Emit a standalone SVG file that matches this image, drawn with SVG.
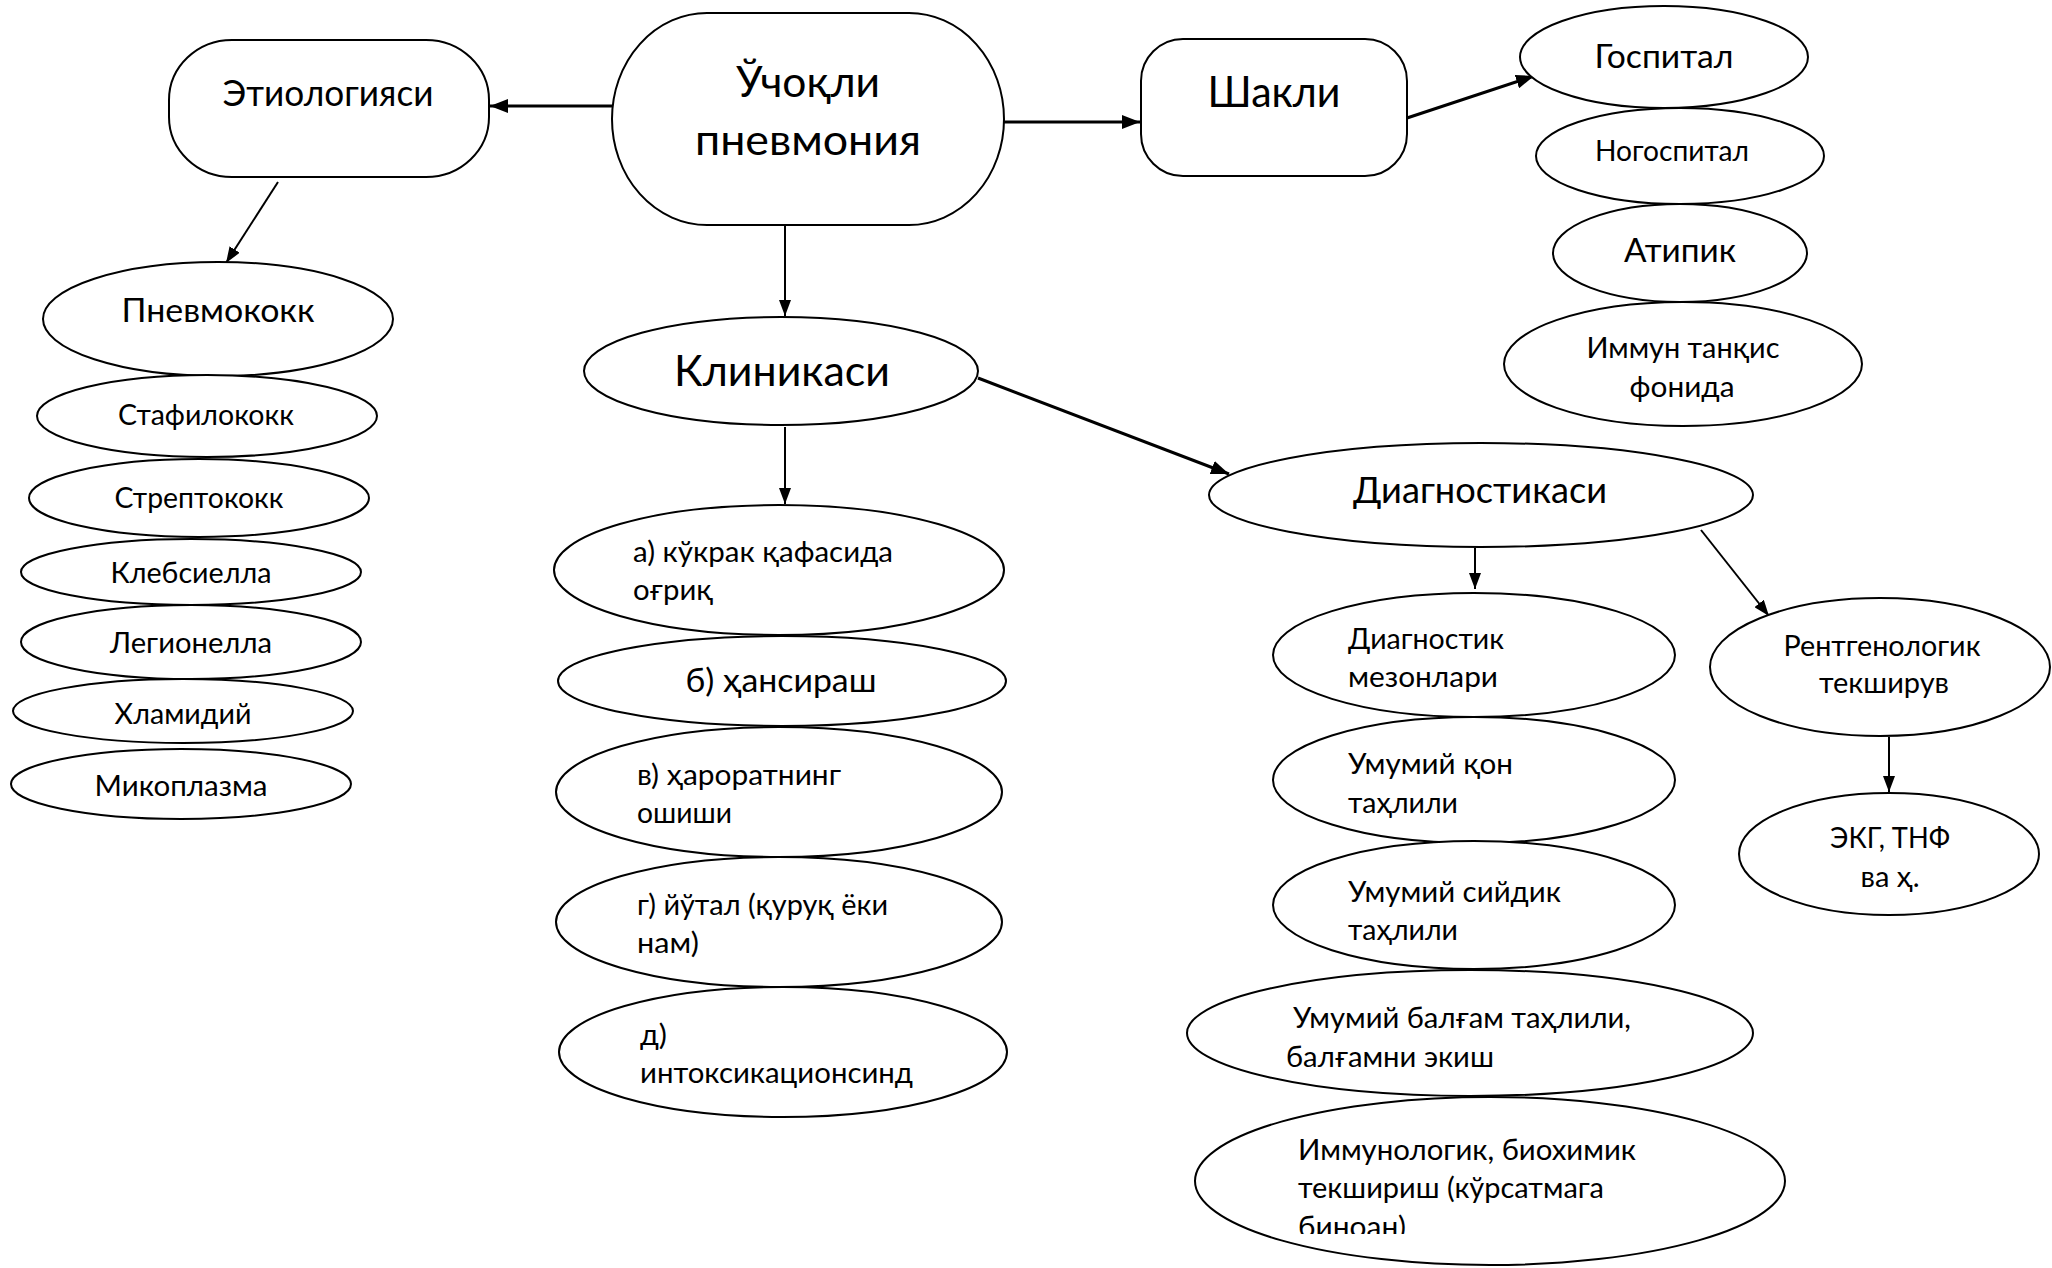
<svg xmlns="http://www.w3.org/2000/svg" width="2052" height="1268" viewBox="0 0 2052 1268">
<style>
  .shape { fill: #ffffff; stroke: #000000; stroke-width: 2; }
  .t { font-family: Lato, "Noto Sans", "Open Sans", sans-serif; fill: #000000; }
  .c { text-anchor: middle; }
  .xl { font-size: 43px; }
  .l { font-size: 37px; }
  .m { font-size: 32px; }
  .s { font-size: 29px; }
  .thick { stroke: #000; stroke-width: 3; fill: none; marker-end: url(#ah); }
  .thin { stroke: #000; stroke-width: 2; fill: none; marker-end: url(#ah2); }
</style>
<defs>
  <marker id="ah" markerUnits="userSpaceOnUse" markerWidth="18" markerHeight="14" viewBox="0 0 18 14" refX="18" refY="7" orient="auto">
    <path d="M0,0 L18,7 L0,14 Z" fill="#000"/>
  </marker>
  <marker id="ah2" markerUnits="userSpaceOnUse" markerWidth="16" markerHeight="12" viewBox="0 0 16 12" refX="16" refY="6" orient="auto">
    <path d="M0,0 L16,6 L0,12 Z" fill="#000"/>
  </marker>
  <clipPath id="clipImm">
    <rect x="1190" y="1090" width="600" height="144"/>
  </clipPath>
</defs>
<rect x="0" y="0" width="2052" height="1268" fill="#ffffff"/>

<g id="connectors">
  <line class="thick" x1="612" y1="106" x2="490" y2="106"/>
  <line class="thick" x1="1004" y1="122" x2="1140" y2="122"/>
  <line class="thick" x1="1407" y1="118" x2="1534" y2="76"/>
  <line class="thin" x1="278" y1="182" x2="226" y2="263"/>
  <line class="thin" x1="785" y1="225" x2="785" y2="316"/>
  <line class="thin" x1="785" y1="427" x2="785" y2="504"/>
  <line class="thick" x1="978" y1="378" x2="1229" y2="474"/>
  <line class="thin" x1="1475" y1="548" x2="1475" y2="589"/>
  <line class="thin" x1="1701" y1="530" x2="1769" y2="616"/>
  <line class="thin" x1="1889" y1="737" x2="1889" y2="792"/>
</g>

<g id="node-main">
  <rect class="shape" x="612" y="13" width="392" height="212" rx="95" ry="106"/>
  <text class="t c xl" x="808" y="97" textLength="144" lengthAdjust="spacingAndGlyphs">Ўчоқли</text>
  <text class="t c xl" x="808" y="155" textLength="226" lengthAdjust="spacingAndGlyphs">пневмония</text>
</g>

<g id="node-etiology">
  <rect class="shape" x="169" y="40" width="320" height="137" rx="63" ry="60"/>
  <text class="t c l" x="328" y="106" textLength="211" lengthAdjust="spacingAndGlyphs">Этиологияси</text>
</g>

<g id="node-shakli">
  <rect class="shape" x="1141" y="39" width="266" height="137" rx="42" ry="42"/>
  <text class="t c xl" x="1274" y="107" textLength="133" lengthAdjust="spacingAndGlyphs">Шакли</text>
</g>

<g id="node-klinikasi">
  <ellipse class="shape" cx="781" cy="371" rx="197" ry="54"/>
  <text class="t c xl" x="782" y="386" textLength="216" lengthAdjust="spacingAndGlyphs">Клиникаси</text>
</g>

<g id="node-diagnostikasi">
  <ellipse class="shape" cx="1481" cy="495" rx="272" ry="52"/>
  <text class="t c l" x="1480" y="503" textLength="254" lengthAdjust="spacingAndGlyphs">Диагностикаси</text>
</g>

<!-- Etiology list -->
<g id="node-pnevmokokk">
  <ellipse class="shape" cx="218" cy="319" rx="175" ry="57"/>
  <text class="t c m" x="218" y="322" textLength="193" lengthAdjust="spacingAndGlyphs">Пневмококк</text>
</g>
<g id="node-stafilokokk">
  <ellipse class="shape" cx="207" cy="416" rx="170" ry="41"/>
  <text class="t c s" x="206" y="425" textLength="176" lengthAdjust="spacingAndGlyphs">Стафилококк</text>
</g>
<g id="node-streptokokk">
  <ellipse class="shape" cx="199" cy="498" rx="170" ry="39"/>
  <text class="t c s" x="199" y="508" textLength="169" lengthAdjust="spacingAndGlyphs">Стрептококк</text>
</g>
<g id="node-klebsiella">
  <ellipse class="shape" cx="191" cy="572" rx="170" ry="33"/>
  <text class="t c s" x="191" y="583" textLength="161" lengthAdjust="spacingAndGlyphs">Клебсиелла</text>
</g>
<g id="node-legionella">
  <ellipse class="shape" cx="191" cy="642" rx="170" ry="37"/>
  <text class="t c s" x="191" y="653" textLength="162" lengthAdjust="spacingAndGlyphs">Легионелла</text>
</g>
<g id="node-hlamidiy">
  <ellipse class="shape" cx="183" cy="711" rx="170" ry="32"/>
  <text class="t c s" x="183" y="724" textLength="137" lengthAdjust="spacingAndGlyphs">Хламидий</text>
</g>
<g id="node-mikoplazma">
  <ellipse class="shape" cx="181" cy="784" rx="170" ry="35"/>
  <text class="t c s" x="181" y="796" textLength="173" lengthAdjust="spacingAndGlyphs">Микоплазма</text>
</g>

<!-- Forms -->
<g id="node-gospital">
  <ellipse class="shape" cx="1664" cy="57" rx="144" ry="51"/>
  <text class="t c m" x="1664" y="68" textLength="139" lengthAdjust="spacingAndGlyphs">Госпитал</text>
</g>
<g id="node-nogospital">
  <ellipse class="shape" cx="1680" cy="156" rx="144" ry="48"/>
  <text class="t c s" x="1672" y="161" textLength="154" lengthAdjust="spacingAndGlyphs">Ногоспитал</text>
</g>
<g id="node-atipik">
  <ellipse class="shape" cx="1680" cy="253" rx="127" ry="49"/>
  <text class="t c m" x="1680" y="262" textLength="112" lengthAdjust="spacingAndGlyphs">Атипик</text>
</g>
<g id="node-immun">
  <ellipse class="shape" cx="1683" cy="364" rx="179" ry="62"/>
  <text class="t c s" x="1683" y="358" textLength="193" lengthAdjust="spacingAndGlyphs">Иммун танқис</text>
  <text class="t c s" x="1682" y="397" textLength="105" lengthAdjust="spacingAndGlyphs">фонида</text>
</g>

<!-- Clinic list -->
<g id="node-a">
  <ellipse class="shape" cx="779" cy="570" rx="225" ry="65"/>
  <text class="t s" x="633" y="562" textLength="260" lengthAdjust="spacingAndGlyphs">а) кўкрак қафасида</text>
  <text class="t s" x="633" y="600" textLength="80" lengthAdjust="spacingAndGlyphs">оғриқ</text>
</g>
<g id="node-b">
  <ellipse class="shape" cx="782" cy="681" rx="224" ry="45"/>
  <text class="t c m" x="781" y="692" textLength="191" lengthAdjust="spacingAndGlyphs">б) ҳансираш</text>
</g>
<g id="node-v">
  <ellipse class="shape" cx="779" cy="792" rx="223" ry="65"/>
  <text class="t s" x="637" y="785" textLength="204" lengthAdjust="spacingAndGlyphs">в) ҳароратнинг</text>
  <text class="t s" x="637" y="823" textLength="95" lengthAdjust="spacingAndGlyphs">ошиши</text>
</g>
<g id="node-g">
  <ellipse class="shape" cx="779" cy="922" rx="223" ry="65"/>
  <text class="t s" x="637" y="915" textLength="251" lengthAdjust="spacingAndGlyphs">г) йўтал (қуруқ ёки</text>
  <text class="t s" x="637" y="953" textLength="62" lengthAdjust="spacingAndGlyphs">нам)</text>
</g>
<g id="node-d">
  <ellipse class="shape" cx="783" cy="1052" rx="224" ry="65"/>
  <text class="t s" x="640" y="1045" textLength="27" lengthAdjust="spacingAndGlyphs">д)</text>
  <text class="t s" x="640" y="1083" textLength="273" lengthAdjust="spacingAndGlyphs">интоксикационсинд</text>
</g>

<!-- Diagnostics list -->
<g id="node-mezon">
  <ellipse class="shape" cx="1474" cy="655" rx="201" ry="62"/>
  <text class="t s" x="1348" y="649" textLength="156" lengthAdjust="spacingAndGlyphs">Диагностик</text>
  <text class="t s" x="1348" y="687" textLength="150" lengthAdjust="spacingAndGlyphs">мезонлари</text>
</g>
<g id="node-qon">
  <ellipse class="shape" cx="1474" cy="780" rx="201" ry="63"/>
  <text class="t s" x="1348" y="774" textLength="165" lengthAdjust="spacingAndGlyphs">Умумий қон</text>
  <text class="t s" x="1348" y="813" textLength="110" lengthAdjust="spacingAndGlyphs">таҳлили</text>
</g>
<g id="node-siydik">
  <ellipse class="shape" cx="1474" cy="905" rx="201" ry="64"/>
  <text class="t s" x="1348" y="902" textLength="213" lengthAdjust="spacingAndGlyphs">Умумий сийдик</text>
  <text class="t s" x="1348" y="940" textLength="110" lengthAdjust="spacingAndGlyphs">таҳлили</text>
</g>
<g id="node-balgam">
  <ellipse class="shape" cx="1470" cy="1033" rx="283" ry="63"/>
  <text class="t s" x="1293" y="1028" textLength="338" lengthAdjust="spacingAndGlyphs">Умумий балғам таҳлили,</text>
  <text class="t s" x="1286" y="1067" textLength="208" lengthAdjust="spacingAndGlyphs">балғамни экиш</text>
</g>
<g id="node-immunolog">
  <ellipse class="shape" cx="1490" cy="1181" rx="295" ry="84"/>
  <g clip-path="url(#clipImm)">
    <text class="t s" x="1298" y="1160" textLength="338" lengthAdjust="spacingAndGlyphs">Иммунологик, биохимик</text>
    <text class="t s" x="1298" y="1198" textLength="306" lengthAdjust="spacingAndGlyphs">текшириш (кўрсатмага</text>
    <text class="t s" x="1298" y="1237" textLength="108" lengthAdjust="spacingAndGlyphs">биноан)</text>
  </g>
</g>
<g id="node-rentgen">
  <ellipse class="shape" cx="1880" cy="667" rx="170" ry="69"/>
  <text class="t c s" x="1882" y="656" textLength="197" lengthAdjust="spacingAndGlyphs">Рентгенологик</text>
  <text class="t c s" x="1884" y="693" textLength="130" lengthAdjust="spacingAndGlyphs">текширув</text>
</g>
<g id="node-ekg">
  <ellipse class="shape" cx="1889" cy="854" rx="150" ry="61"/>
  <text class="t c s" x="1890" y="848" textLength="120" lengthAdjust="spacingAndGlyphs">ЭКГ, ТНФ</text>
  <text class="t c s" x="1890" y="887" textLength="59" lengthAdjust="spacingAndGlyphs">ва ҳ.</text>
</g>
</svg>
